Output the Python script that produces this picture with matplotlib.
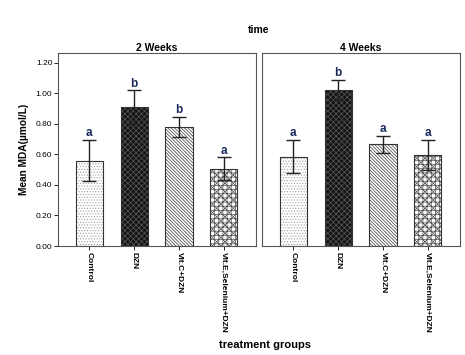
import matplotlib
matplotlib.use('Agg')
import matplotlib.pyplot as plt
import numpy as np

plt.rcParams['font.family'] = ['Liberation Sans', 'DejaVu Sans']
plt.rcParams['hatch.linewidth'] = 0.5

# data
groups = ['Control', 'DZN', 'Vit.C+DZN', 'Vit.E,Selenium+DZN']
panels = ['2 Weeks', '4 Weeks']
means_2w = [0.56, 0.91, 0.78, 0.505]
err_2w = [0.135, 0.11, 0.066, 0.075]
letters_2w = ['a', 'b', 'b', 'a']
means_4w = [0.585, 1.02, 0.665, 0.597]
err_4w = [0.11, 0.066, 0.055, 0.097]
letters_4w = ['a', 'b', 'a', 'a']

faces = ['white', '#141414', 'white', 'white']
hatches = ['......', 'xxxxxx', '\\' * 10, 'xxxx++++']
hatch_cols = ['#a0a0a0', '#5a5a5a', '#3a3a3a', '#555555']

fig = plt.figure(figsize=(4.65, 3.55), dpi=100)
ax1 = fig.add_axes([0.1247, 0.307, 0.426, 0.544])
ax2 = fig.add_axes([0.5634, 0.307, 0.426, 0.544])

x = np.arange(len(groups))
for ax, title, means, errs, lets in [(ax1, panels[0], means_2w, err_2w, letters_2w),
                                     (ax2, panels[1], means_4w, err_4w, letters_4w)]:
    bars = ax.bar(x, means, width=0.61, color=faces, edgecolor=hatch_cols, linewidth=0.6, zorder=2)
    for b, h in zip(bars, hatches):
        b.set_hatch(h)
    # outline on top of hatch colour
    ax.bar(x, means, width=0.61, fill=False, edgecolor='#333333', linewidth=0.8, zorder=3)
    ax.errorbar(x, means, yerr=errs, fmt='none', ecolor='#222222', elinewidth=1.0,
                capsize=5, capthick=1.0, zorder=4)
    for xi, m, e, l in zip(x, means, errs, lets):
        ax.text(xi, m + e + 0.005, l, ha='center', va='bottom', fontsize=8.5,
                fontweight='bold', color='#1a2a5a')
    ax.set_xlim(-0.7, 3.72)
    ax.set_ylim(0, 1.265)
    ax.set_title(title, fontsize=7.5, fontweight='bold', pad=1.5)
    ax.set_xticks(x)
    ax.set_xticklabels(groups, rotation=-90, fontsize=6, fontweight='bold')
    ax.tick_params(axis='x', length=3, width=0.6, pad=1)
    for s in ax.spines.values():
        s.set_color('#555555')
        s.set_linewidth(0.8)

ax1.set_yticks(np.arange(0, 1.21, 0.2))
ax1.set_yticklabels(['%.2f' % v for v in np.arange(0, 1.21, 0.2)], fontsize=6)
ax1.tick_params(axis='y', length=3, width=0.6, pad=1)
ax1.set_ylabel('Mean MDA(\u00b5mol/L)', fontsize=7.3, fontweight='bold', labelpad=5)
ax2.set_yticks([])

fig.text(0.557, 0.915, 'time', ha='center', va='center', fontsize=7.5, fontweight='bold')
fig.text(0.57, 0.028, 'treatment groups', ha='center', va='center', fontsize=8, fontweight='bold')

fig.savefig('out.png', dpi=100)
